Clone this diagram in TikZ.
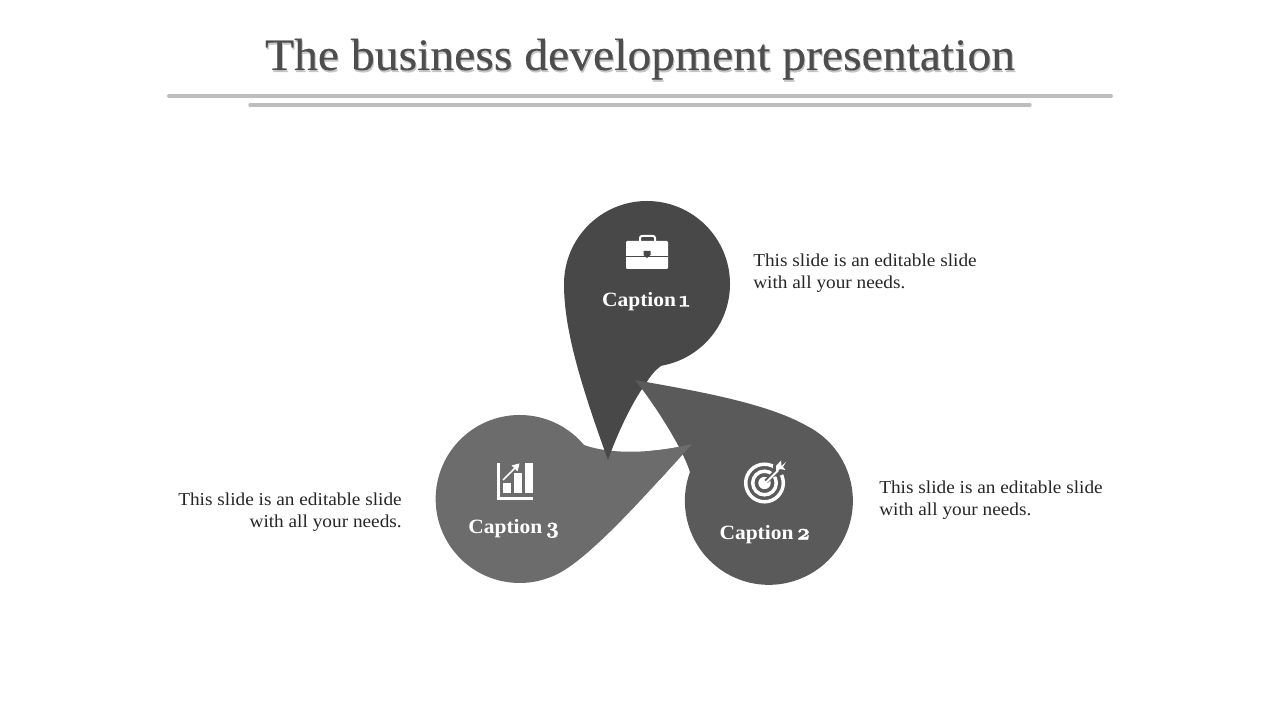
\documentclass[tikz,border=0pt]{standalone}
\usepackage{fontspec}
\setmainfont[FakeStretch=1.06]{Liberation Serif}
\newfontfamily\titlefont[FakeStretch=1.06,FakeBold=0.35]{Liberation Serif}
\newfontfamily\osf[Numbers=OldStyle,FakeBold=1.4,Scale=1.12]{Latin Modern Roman}
\newcommand{\capfont}{\fontsize{15.2}{17}\selectfont\bfseries\spaceskip=.14em\relax}
\definecolor{ink}{HTML}{4D4D4D}
\definecolor{rulegray}{HTML}{BDBDBD}
\definecolor{shapeA}{HTML}{484848}
\definecolor{shapeB}{HTML}{5A5A5A}
\definecolor{shapeC}{HTML}{6C6C6C}
\definecolor{bodytext}{HTML}{262626}
\tikzset{
  titletext/.style={font=\titlefont\fontsize{33.7}{40}\selectfont, anchor=base, inner sep=0pt},
  captiontext/.style={font=\capfont, text=white, inner sep=0pt},
  bodyleft/.style={font=\fontsize{13.65}{16.5}\selectfont, text=bodytext, align=left, anchor=west, inner sep=0pt},
  bodyright/.style={font=\fontsize{13.65}{16.5}\selectfont, text=bodytext, align=right, anchor=east, inner sep=0pt},
  titlerule/.style={draw=rulegray, line cap=round},
}
\begin{document}
\begin{tikzpicture}[x=0.75pt,y=0.75pt]
\useasboundingbox (0,0) rectangle (1280,720);
% title
\node[titletext, text=black!28, opacity=.8] (titleshadow) at (641,648) {The business development presentation};
\node[titletext, text=ink] (title) at (640,650) {The business development presentation};
\draw[titlerule, line width=3pt] (169,624) -- (1111,624);
\draw[titlerule, line width=2.5pt] (250,615) -- (1030,615);
% teardrop 3 (back)
\def\dropC{(692,276) .. controls (660,268) and (615,264) .. (584,275)
  arc[start angle=40,end angle=300,radius=84]
  .. controls (596,168) and (652,232) .. (692,276) -- cycle}
\fill[shapeC] \dropC;
% teardrop 1
\fill[shapeA] (608,260) .. controls (577,345) and (564,395) .. (564,436)
  arc[start angle=180,end angle=-80,radius=83]
  .. controls (652,348) and (647,338) .. (642,331)
  .. controls (628,310) and (615,280) .. (608,260) -- cycle;
% teardrop 2
\fill[shapeB] (635,340) .. controls (690,330) and (765,318) .. (807,294)
  arc[start angle=63,end angle=-200,radius=84]
  .. controls (685,265) and (665,300) .. (642,331) -- cycle;
% tip of teardrop 3 lies over teardrop 2
\begin{scope}
\clip (650,240) rectangle (700,290);
\fill[shapeC] \dropC;
\end{scope}
% briefcase icon
\fill[white,rounded corners=0.8pt] (626,479) rectangle (668,451);
\fill[shapeA] (626,464.4) rectangle (668,463.4);
\draw[white,line width=1.5pt,rounded corners=1.5pt] (640,478) -- (640,484) -- (655,484) -- (655,478);
\fill[shapeA] (643.5,469) -- (650.5,469) -- (650.5,465) -- (647,462) -- (643.5,465) -- cycle;
% target icon
\draw[white,line width=2.6pt] (764.5,237) circle[radius=18.8];
\draw[white,line width=2.6pt] (764.5,237) circle[radius=11.8];
\fill[white] (764.5,237) circle[radius=6.2];
\draw[shapeB,line width=3.4pt] (766,238.5) -- (778,250.5);
\fill[shapeB] (773,243) -- (773,255) -- (781,263) -- (789,255) -- (782,245) -- cycle;
\draw[white,line width=1.5pt] (765,236.5) -- (778,249.5);
\fill[white] (776,247.5) -- (776,254) -- (781,259.5) -- (781.5,254) -- (786,258) -- (783,253) -- (785.5,250) -- (780,251) -- cycle;
% chart icon
\fill[white] (497,257) rectangle (500,220);
\fill[white] (497,220) rectangle (533,223);
\fill[white] (503,227) rectangle (511,237);
\fill[white] (514,227) rectangle (522,247);
\fill[white] (525,227) rectangle (533,257);
\draw[white,line width=1.3pt] (503,240) -- (515,252);
\fill[white] (519.5,256.5) -- (511.5,254.5) -- (517.5,248.5) -- cycle;
% captions
\node[captiontext] (cap1) at (646,418.5) {Caption {\osf 1}};
\node[captiontext] (cap2) at (765,185.5) {Caption {\osf 2}};
\node[captiontext] (cap3) at (514,191.5) {Caption {\osf 3}};
% descriptions
\node[bodyleft] (desc1) at (753,447) {This slide is an editable slide\\with all your needs.};
\node[bodyleft] (desc2) at (879,220) {This slide is an editable slide\\with all your needs.};
\node[bodyright] (desc3) at (402,208) {This slide is an editable slide\\with all your needs.};
\end{tikzpicture}
\end{document}
